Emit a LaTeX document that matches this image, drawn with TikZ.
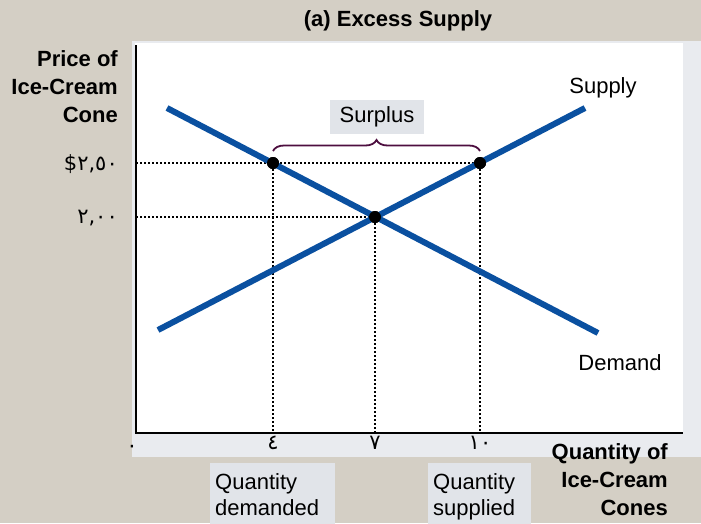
\documentclass[tikz,border=0pt]{standalone}
\usepackage{fontspec}
\setmainfont{Liberation Sans}
\newfontfamily\arabicfont{DejaVu Sans}
\usetikzlibrary{calc,decorations.pathreplacing}

\definecolor{bgbeige}{HTML}{D4CFC5}
\definecolor{panelgrey}{HTML}{E9EBEF}
\definecolor{boxgrey}{HTML}{E1E4E9}
\definecolor{curveblue}{HTML}{0A50A0}
\definecolor{bracepurple}{HTML}{4D0E3F}

\begin{document}
\begin{tikzpicture}[x=1pt,y=-1pt,
lbl/.style={font=\fontsize{22}{26}\selectfont,inner sep=0pt},
ttl/.style={font=\fontsize{22}{28}\selectfont\bfseries,inner sep=0pt,align=right},
curve/.style={line width=6pt,draw=curveblue},
guide/.style={line width=1.8pt,dash pattern=on 1.8pt off 2.2pt},
pt/.style={circle,fill=black,inner sep=0pt,minimum size=12pt},
tick/.style={font=\fontsize{21}{21}\selectfont\arabicfont,inner sep=0pt},
qbox/.style={lbl,fill=boxgrey,align=left,inner xsep=5pt,inner ysep=10pt,anchor=north west}]
	%background and plot area
	\useasboundingbox (0,0) rectangle (701,523);
	\fill[bgbeige] (0,0) rectangle (701,523);
	\fill[panelgrey] (132,41) rectangle (701,457);
	\fill[white] (135,43) rectangle (683,432);
	%axes
	\coordinate (o) at (136,433);
	\coordinate (ytop) at (136,45);
	\coordinate (xend) at (683,433);
	\draw[line width=1.8pt] (ytop) -- (o) -- (xend);
	%title and axis titles
	\node[ttl] at (398,21) (title) {(a) Excess Supply};
	\node[ttl,anchor=base east] at (118,122) (ptitle) {Price of\\Ice-Cream\\Cone};
	\node[ttl,anchor=base east] at (668,515) (qtitle) {Quantity of\\Ice-Cream\\Cones};
	%curves
	\coordinate (s0) at (158,330);
	\coordinate (s1) at (585,108);
	\coordinate (d0) at (167,108);
	\coordinate (d1) at (598,333);
	\node[pt] at (375,217) (eq) {};
	\node[pt] at (273,163) (qd) {};
	\node[pt] at (480,163) (qs) {};
	%guide lines
	\draw[guide] (o |- qs) -- (qs);
	\draw[guide] (o |- eq) -- (eq);
	\draw[guide] (qd) -- (qd |- o);
	\draw[guide] (eq) -- (eq |- o);
	\draw[guide] (qs) -- (qs |- o);
	\draw[curve] (s0) -- (s1);
	\draw[curve] (d0) -- (d1);
	\node[pt] at (eq) {};
	\node[pt] at (qd) {};
	\node[pt] at (qs) {};
	\node[lbl] at (603,88) (supply) {Supply};
	\node[lbl] at (620,363) (demand) {Demand};
	%price and quantity values
	\node[tick,anchor=east] at (118,164) (p250) {\$٢,٥٠};
	\node[tick,anchor=east] at (118,218) (p200) {٢,٠٠};
	\node[tick] at (132,449) (q0) {٠};
	\node[tick] at (273,443) (q4) {٤};
	\node[tick] at (375,443) (q7) {٧};
	\node[tick] at (480,443) (q10) {١٠};
	%surplus
	\node[lbl,fill=boxgrey,minimum width=94pt,minimum height=34pt] at (377,117) (surplus) {Surplus};
	\draw[decorate,decoration={brace,amplitude=11pt},line width=1.8pt,draw=bracepurple]
		($(qd)+(0,-12)$) -- ($(qs)+(0,-12)$);
	%quantity boxes
	\node[qbox,text width=115pt] at (210,463) (qdem) {Quantity\\demanded};
	\node[qbox,text width=93pt] at (428,463) (qsup) {Quantity\\supplied};
\end{tikzpicture}
\end{document}
